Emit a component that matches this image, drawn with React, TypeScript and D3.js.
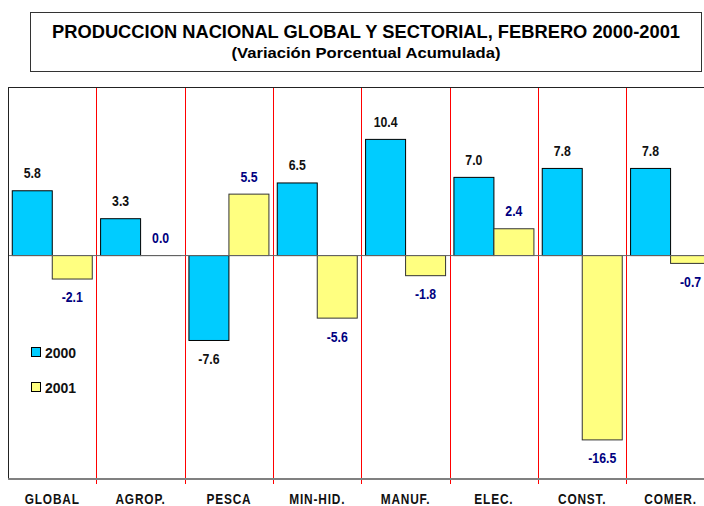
import React from "react";
import * as d3 from "d3";

const categories = ["GLOBAL", "AGROP.", "PESCA", "MIN-HID.", "MANUF.", "ELEC.", "CONST.", "COMER."];
const values2000 = [5.8, 3.3, -7.6, 6.5, 10.4, 7.0, 7.8, 7.8];
const values2001 = [-2.1, 0.0, 5.5, -5.6, -1.8, 2.4, -16.5, -0.7];
const seriesNames = ["2000", "2001"];
const yDomain: [number, number] = [-20, 15];
const titleText = "PRODUCCION NACIONAL GLOBAL Y SECTORIAL, FEBRERO 2000-2001";
const subtitleText = "(Variación Porcentual Acumulada)";

const W = 704;
const H = 506;
const plotLeft = 8.1;
const plotTop = 88;
const plotBottom = 479;
const bandW = 88.33;
const plotRight = plotLeft + bandW * categories.length;

const colors = ["#00ccff", "#ffff80"];
const strokes = ["#000000", "#333333"];
const labelColors = ["#111111", "#000080"];
const font = "'Liberation Sans', Arial, sans-serif";
const squeeze = 0.82;

function NarrowText(props: { x: number; y: number; size: number; fill: string; children: string; spacing?: number; anchor?: string }) {
  return (
    <g transform={`translate(${props.x},${props.y}) scale(${squeeze},1)`}>
      <text x={0} y={0} textAnchor={props.anchor ?? "middle"} fontFamily={font} fontWeight="bold" fontSize={props.size}
        letterSpacing={props.spacing ?? 0} fill={props.fill}>{props.children}</text>
    </g>
  );
}

export default function App() {
  const x = d3.scaleBand<string>().domain(categories).range([plotLeft, plotRight]).paddingInner(0).paddingOuter(0);
  const pad = (x.bandwidth() - 80) / 2;
  const xs = d3.scaleBand<string>().domain(seriesNames).range([pad, x.bandwidth() - pad]).padding(0);
  const y = d3.scaleLinear().domain(yDomain).range([plotBottom, plotTop]);
  const y0 = y(0);
  const series = [values2000, values2001];

  return (
    <svg width={W} height={H} style={{ position: "absolute", left: 0, top: 0, background: "#fff" }}>
      {/* title box */}
      <rect x={30.5} y={12.5} width={671} height={59} fill="#fff" stroke="#333" strokeWidth={1} />
      <text x={366} y={38} textAnchor="middle" fontFamily={font} fontWeight="bold" fontSize={18} fill="#000"
        textLength={628} lengthAdjust="spacingAndGlyphs">{titleText}</text>
      <text x={366} y={57.5} textAnchor="middle" fontFamily={font} fontWeight="bold" fontSize={15} fill="#000"
        textLength={269} lengthAdjust="spacingAndGlyphs">{subtitleText}</text>

      {/* separators */}
      {categories.slice(1).map((c) => (
        <line key={"sep" + c} x1={Math.round(x(c)!) + 0.5} x2={Math.round(x(c)!) + 0.5} y1={plotTop} y2={plotBottom + 5}
          stroke="#ff0000" strokeWidth={1} />
      ))}

      {/* bars */}
      {series.map((vals, si) =>
        vals.map((v, i) => {
          const c = categories[i];
          const bx = x(c)! + xs(seriesNames[si])!;
          const top = Math.min(y(v), y0);
          const h = Math.abs(y(v) - y0);
          return (
            <rect key={si + "-" + i} x={bx} y={top} width={xs.bandwidth()} height={Math.max(h, 0.01)}
              fill={colors[si]} stroke={strokes[si]} strokeWidth={1} />
          );
        })
      )}

      {/* zero line */}
      <line x1={plotLeft} x2={plotRight} y1={y0} y2={y0} stroke="#666" strokeWidth={1} />

      {/* value labels */}
      {series.map((vals, si) =>
        vals.map((v, i) => {
          const c = categories[i];
          const cx = x(c)! + xs(seriesNames[si])! + xs.bandwidth() / 2;
          const cy = v >= 0 ? y(v) - 18 : y(v) + 18;
          return (
            <NarrowText key={"l" + si + "-" + i} x={cx} y={cy + 5.4} size={15} fill={labelColors[si]}>
              {v.toFixed(1)}
            </NarrowText>
          );
        })
      )}

      {/* plot border */}
      <line x1={plotLeft} x2={plotRight} y1={87.5} y2={87.5} stroke="#222" strokeWidth={1} />
      <line x1={8.5} x2={8.5} y1={87.5} y2={plotBottom} stroke="#222" strokeWidth={1} />
      <line x1={plotLeft} x2={plotRight} y1={plotBottom} y2={plotBottom} stroke="#808080" strokeWidth={2} />

      {/* legend */}
      {seriesNames.map((s, si) => (
        <g key={"lg" + s}>
          <rect x={31.5} y={347.5 + si * 35} width={9} height={9} fill={colors[si]} stroke="#000" strokeWidth={1} />
          <text x={45} y={357.5 + si * 35} fontFamily={font} fontWeight="bold" fontSize={14} fill="#111">{s}</text>
        </g>
      ))}

      {/* category labels */}
      {categories.map((c) => (
        <NarrowText key={"c" + c} x={x(c)! + x.bandwidth() / 2} y={503.5} size={14.5} spacing={1} fill="#111">
          {c}
        </NarrowText>
      ))}
    </svg>
  );
}
